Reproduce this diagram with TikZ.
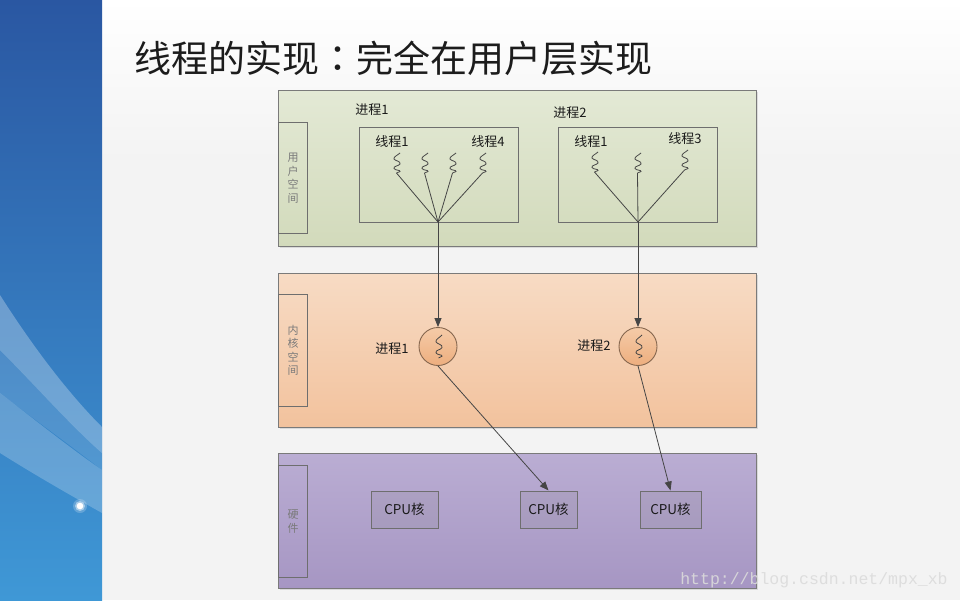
\documentclass[tikz,border=0pt]{standalone}
\usepackage{fontspec}
\setmainfont{Noto Sans CJK SC}
\newfontfamily\tcfont{Noto Sans CJK TC}
\newfontfamily\wmfont{Liberation Mono}
\usetikzlibrary{arrows.meta,shadows}
\definecolor{bgcol}{HTML}{F3F3F3}
\definecolor{panTop}{HTML}{2A57A2}
\definecolor{panBot}{HTML}{3F98D6}
\definecolor{titlecol}{HTML}{1C1C1C}
\definecolor{boxline}{HTML}{7A7A7A}
\definecolor{sideline}{HTML}{6E6E6E}
\definecolor{sidetext}{HTML}{7A7A7A}
\definecolor{wirecol}{HTML}{454545}
\definecolor{uTop}{HTML}{E3E9D5}
\definecolor{uBot}{HTML}{D2DABB}
\definecolor{kTop}{HTML}{F7DBC4}
\definecolor{kBot}{HTML}{F2C29D}
\definecolor{hTop}{HTML}{BAADD3}
\definecolor{hBot}{HTML}{A696C3}
\definecolor{circTop}{HTML}{F5CBA8}
\definecolor{circBot}{HTML}{EDAE7E}
\definecolor{circLine}{HTML}{86674F}
\definecolor{lblcol}{HTML}{1A1A1A}
\begin{document}
\begin{tikzpicture}[x=1pt,y=-1pt,
  wire/.style={draw=wirecol, line width=0.8pt},
  arr/.style={wire, -{Triangle[length=9pt,width=7pt]}},
  panel/.style={draw=boxline, line width=1.3pt, anchor=north west, inner sep=0pt,
    drop shadow={shadow xshift=1.5pt, shadow yshift=-1.5pt, opacity=0.22}},
  sidebox/.style={draw=sideline, line width=1pt, anchor=north west, inner sep=0pt,
    minimum width=29pt, align=center, text=sidetext, font=\fontsize{11}{13.5}\selectfont},
  innerbox/.style={draw=sideline, line width=0.9pt, anchor=north west, inner sep=0pt},
  lbl/.style={text=lblcol, inner sep=1pt, font=\fontsize{13}{15}\selectfont},
  cpubox/.style={draw=sideline, line width=1pt, inner sep=0pt, minimum height=37pt,
    text=lblcol, font=\fontsize{13.5}{15}\selectfont,
    drop shadow={shadow xshift=1pt, shadow yshift=-1pt, opacity=0.15}},
  kcirc/.style={circle, draw=circLine, line width=0.9pt, minimum size=38pt, inner sep=0pt,
    top color=circTop, bottom color=circBot},
  squig/.pic={\draw[wire] (0,0) .. controls (-2,2) and (-7,4) .. (-6,6)
     .. controls (-5,8) and (1,8) .. (0,11) .. controls (-1,13) and (-7,13) .. (-6,15.5)
     .. controls (-5,17.5) and (1,17) .. (0,18.5) -- (-3.5,20);}
]
\useasboundingbox (0,0) rectangle (960,600);
% background
\fill[bgcol] (102,0) rectangle (960,600);
\shade[top color=white, bottom color=bgcol] (102,0) rectangle (960,160);
% left decorative panel
\shade[top color=panTop, bottom color=panBot] (0,0) rectangle (102,600);
\begin{scope}
\clip (0,0) rectangle (102,600);
\fill[white, opacity=0.28] (0,295) .. controls (35,350) and (70,395) .. (102,427)
  -- (102,453) .. controls (70,425) and (35,385) .. (0,350) -- cycle;
\fill[white, opacity=0.12] (0,350) .. controls (35,385) and (70,425) .. (102,453)
  -- (102,470) .. controls (70,445) and (35,420) .. (0,393) -- cycle;
\fill[white, opacity=0.22] (0,393) .. controls (35,420) and (70,448) .. (102,470)
  -- (102,513) .. controls (70,495) and (35,475) .. (0,453) -- cycle;
\fill[white, opacity=0.2] (80,506) circle (7);
\fill[white, opacity=0.45] (80,506) circle (5);
\fill[white] (80,506) circle (3.3);
\end{scope}
% title
\node[anchor=west, inner sep=0pt, text=titlecol, font=\fontsize{37}{40}\selectfont] (title) at (134,58) {线程的实现{\tcfont ：}完全在用户层实现};
% panels
\node[panel, top color=uTop, bottom color=uBot, minimum width=478pt, minimum height=156pt] (user) at (278,90) {};
\node[panel, top color=kTop, bottom color=kBot, minimum width=478pt, minimum height=154pt] (kern) at (278,273) {};
\node[panel, top color=hTop, bottom color=hBot, minimum width=478pt, minimum height=135pt] (hw) at (278,453) {};
% side labels
\node[sidebox, minimum height=111pt] (uside) at (278,122) {用\\户\\空\\间};
\node[sidebox, minimum height=112pt] (kside) at (278,294) {内\\核\\空\\间};
\node[sidebox, minimum height=112pt] (hside) at (278,465) {硬\\件};
% user space processes
\node[innerbox, minimum width=159pt, minimum height=95pt] (p1box) at (359,127) {};
\node[innerbox, minimum width=159pt, minimum height=95pt] (p2box) at (558,127) {};
\node[lbl] (p1lbl) at (372,110) {进程1};
\node[lbl] (p2lbl) at (570,113) {进程2};
\node[lbl] (t11) at (392,142) {线程1};
\node[lbl] (t14) at (488,142) {线程4};
\node[lbl] (t21) at (591,142) {线程1};
\node[lbl] (t23) at (685,139) {线程3};
% squiggles of process 1
\pic at (400,153) {squig};
\pic at (428,153) {squig};
\pic at (456,153) {squig};
\pic at (486,153) {squig};
\coordinate (b11) at (396.5,173);
\coordinate (b12) at (424.5,173);
\coordinate (b13) at (452.5,173);
\coordinate (b14) at (482.5,173);
\coordinate (j1) at (438,222);
\draw[wire] (b11) -- (j1);
\draw[wire] (b12) -- (j1);
\draw[wire] (b13) -- (j1);
\draw[wire] (b14) -- (j1);
% squiggles of process 2
\pic at (598,152) {squig};
\pic at (641,153) {squig};
\pic at (688,150) {squig};
\coordinate (b21) at (594.5,172);
\coordinate (b22) at (637.5,173);
\coordinate (b23) at (684.5,170);
\coordinate (j2) at (638,222);
\draw[wire] (b21) -- (j2);
\draw[wire] (b22) -- (j2);
\draw[wire] (b23) -- (j2);
% kernel
\node[kcirc] (k1) at (438,346.5) {};
\node[kcirc] (k2) at (638,346.5) {};
\pic[yscale=1.15] at (442,335) {squig};
\pic[yscale=1.15] at (642,335) {squig};
\node[lbl] (k1lbl) at (392,349) {进程1};
\node[lbl] (k2lbl) at (594,346) {进程2};
\draw[arr] (j1) -- (k1);
\draw[arr] (j2) -- (k2);
% hardware
\node[cpubox, minimum width=67pt] (cpu1) at (404.5,509.5) {CPU核};
\node[cpubox, minimum width=57pt] (cpu2) at (548.5,509.5) {CPU核};
\node[cpubox, minimum width=61pt] (cpu3) at (670.5,509.5) {CPU核};
\draw[arr] (k1.south) -- (cpu2.north);
\draw[arr] (k2.south) -- (cpu3.north);
% watermark
\node[text=black!14, opacity=0.9, inner sep=0pt, font=\wmfont\fontsize{16.5}{18}\selectfont] (wm) at (814,580) {http://blog.csdn.net/mpx\_xb};
\end{tikzpicture}
\end{document}
